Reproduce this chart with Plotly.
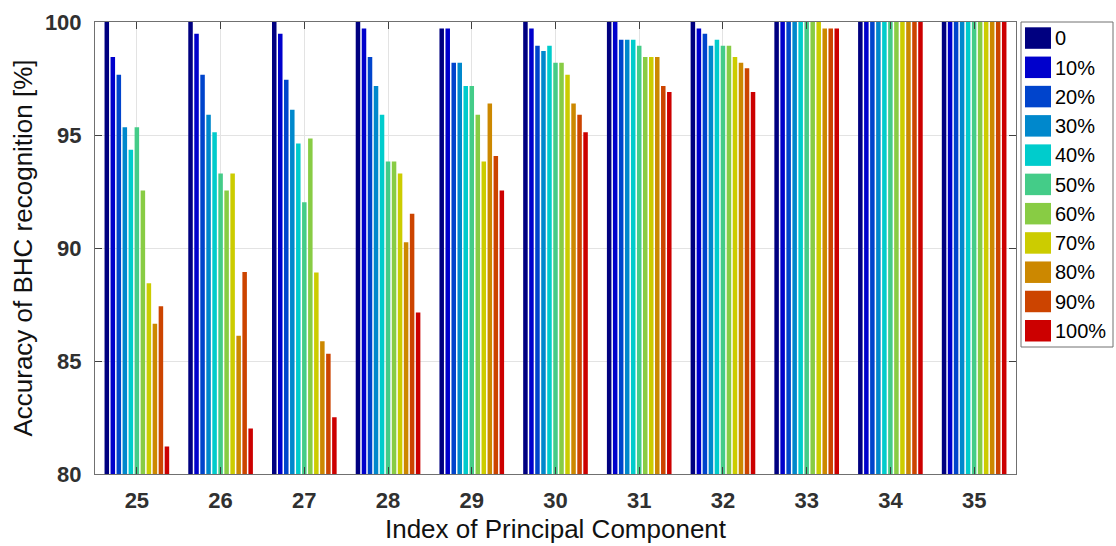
import plotly.graph_objects as go

# Index of principal component (x categories)
components = [25, 26, 27, 28, 29, 30, 31, 32, 33, 34, 35]

# Noise level series names
noise_levels = ["0", "10%", "20%", "30%", "40%", "50%", "60%", "70%", "80%", "90%", "100%"]

# Accuracy (%) per noise level, one value per component
acc_0   = [100.00, 100.00, 100.00, 100.00, 99.71, 100.00, 100.00, 100.00, 100.00, 100.00, 100.00]
acc_10  = [98.45, 99.48, 99.48, 99.71, 99.71, 99.71, 100.00, 99.71, 100.00, 100.00, 100.00]
acc_20  = [97.67, 97.67, 97.45, 98.45, 98.20, 98.95, 99.22, 99.48, 100.00, 100.00, 100.00]
acc_30  = [95.34, 95.90, 96.12, 97.17, 98.20, 98.72, 99.22, 98.95, 100.00, 100.00, 100.00]
acc_40  = [94.35, 95.12, 94.62, 95.90, 97.17, 98.95, 99.22, 99.22, 100.00, 100.00, 100.00]
acc_50  = [95.34, 93.30, 92.02, 93.83, 97.17, 98.20, 98.95, 98.95, 100.00, 100.00, 100.00]
acc_60  = [92.54, 92.54, 94.84, 93.83, 95.90, 98.20, 98.45, 98.95, 100.00, 100.00, 100.00]
acc_70  = [88.44, 93.30, 88.92, 93.30, 93.83, 97.67, 98.45, 98.45, 100.00, 100.00, 100.00]
acc_80  = [86.65, 86.12, 85.87, 90.25, 96.39, 96.39, 98.45, 98.20, 99.71, 100.00, 100.00]
acc_90  = [87.42, 88.94, 85.32, 91.52, 94.07, 95.90, 97.17, 97.95, 99.71, 100.00, 100.00]
acc_100 = [81.22, 82.01, 82.51, 87.15, 92.54, 95.12, 96.90, 96.90, 99.71, 100.00, 100.00]

series = [acc_0, acc_10, acc_20, acc_30, acc_40, acc_50, acc_60, acc_70, acc_80, acc_90, acc_100]

# Jet-like palette
colors = ["#000080", "#0000CC", "#0044CC", "#0088CC", "#00CCCC", "#44CC88",
          "#88CC44", "#CCCC00", "#CC8800", "#CC4400", "#CC0000"]

# Figure geometry (pixels)
W, H = 1116, 546
ML, MR, MT, MB = 95, 100, 22, 72
PW, PH = W - ML - MR, H - MT - MB


def px_x(px):
    return (px - ML) / PW


def px_y(py):
    return (H - MB - py) / PH


fig = go.Figure()
for name, vals, col in zip(noise_levels, series, colors):
    fig.add_trace(go.Bar(x=components, y=vals, name=name, marker=dict(color=col, line=dict(width=0)),
                         showlegend=False))

axis_font = dict(family="Liberation Sans, Arial, sans-serif", size=22, color="#303030", weight="bold")
title_font = dict(family="Liberation Sans, Arial, sans-serif", size=26, color="#111111")

fig.update_layout(
    width=W, height=H,
    margin=dict(l=ML, r=MR, t=MT, b=MB),
    paper_bgcolor="white", plot_bgcolor="white",
    barmode="group", bargap=0.21, bargroupgap=0.25,
    xaxis=dict(
        range=[24.5, 35.5], tickmode="array", tickvals=components,
        ticktext=[str(c) for c in components],
        showgrid=True, gridcolor="#e3e3e3", gridwidth=1,
        showline=True, linecolor="#707070", linewidth=1, mirror="allticks",
        ticks="inside", ticklen=7, tickcolor="#404040",
        tickfont=axis_font, ticklabelstandoff=7, automargin=False,
        title=dict(text="Index of Principal Component", font=title_font, standoff=7),
        zeroline=False,
    ),
    yaxis=dict(
        range=[80, 100], tickmode="array", tickvals=[80, 85, 90, 95, 100],
        showgrid=True, gridcolor="#e3e3e3", gridwidth=1,
        showline=True, linecolor="#707070", linewidth=1, mirror="allticks",
        ticks="inside", ticklen=7, tickcolor="#404040",
        tickfont=axis_font, ticklabelstandoff=8, automargin=False,
        title=dict(text="Accuracy of BHC recognition [%]", font=title_font, standoff=4),
        zeroline=False,
    ),
)

# Legend box drawn in paper coordinates
shapes = [dict(type="rect", xref="paper", yref="paper",
               x0=px_x(1021), x1=px_x(1113), y0=px_y(347), y1=px_y(22),
               line=dict(color="#707070", width=1), fillcolor="white", layer="above")]
annotations = []
row_h = 29.27
for i, (name, col) in enumerate(zip(noise_levels, colors)):
    top = 27.3 + i * row_h
    shapes.append(dict(type="rect", xref="paper", yref="paper",
                       x0=px_x(1025), x1=px_x(1051), y0=px_y(top + 21.5), y1=px_y(top),
                       line=dict(width=0), fillcolor=col, layer="above"))
    annotations.append(dict(xref="paper", yref="paper", x=px_x(1053), y=px_y(top + 11),
                            text=name, showarrow=False, xanchor="left", yanchor="middle",
                            font=dict(family="Liberation Sans, Arial, sans-serif", size=20, color="#000000")))
fig.update_layout(shapes=shapes, annotations=annotations)

fig.write_html("out.html")
